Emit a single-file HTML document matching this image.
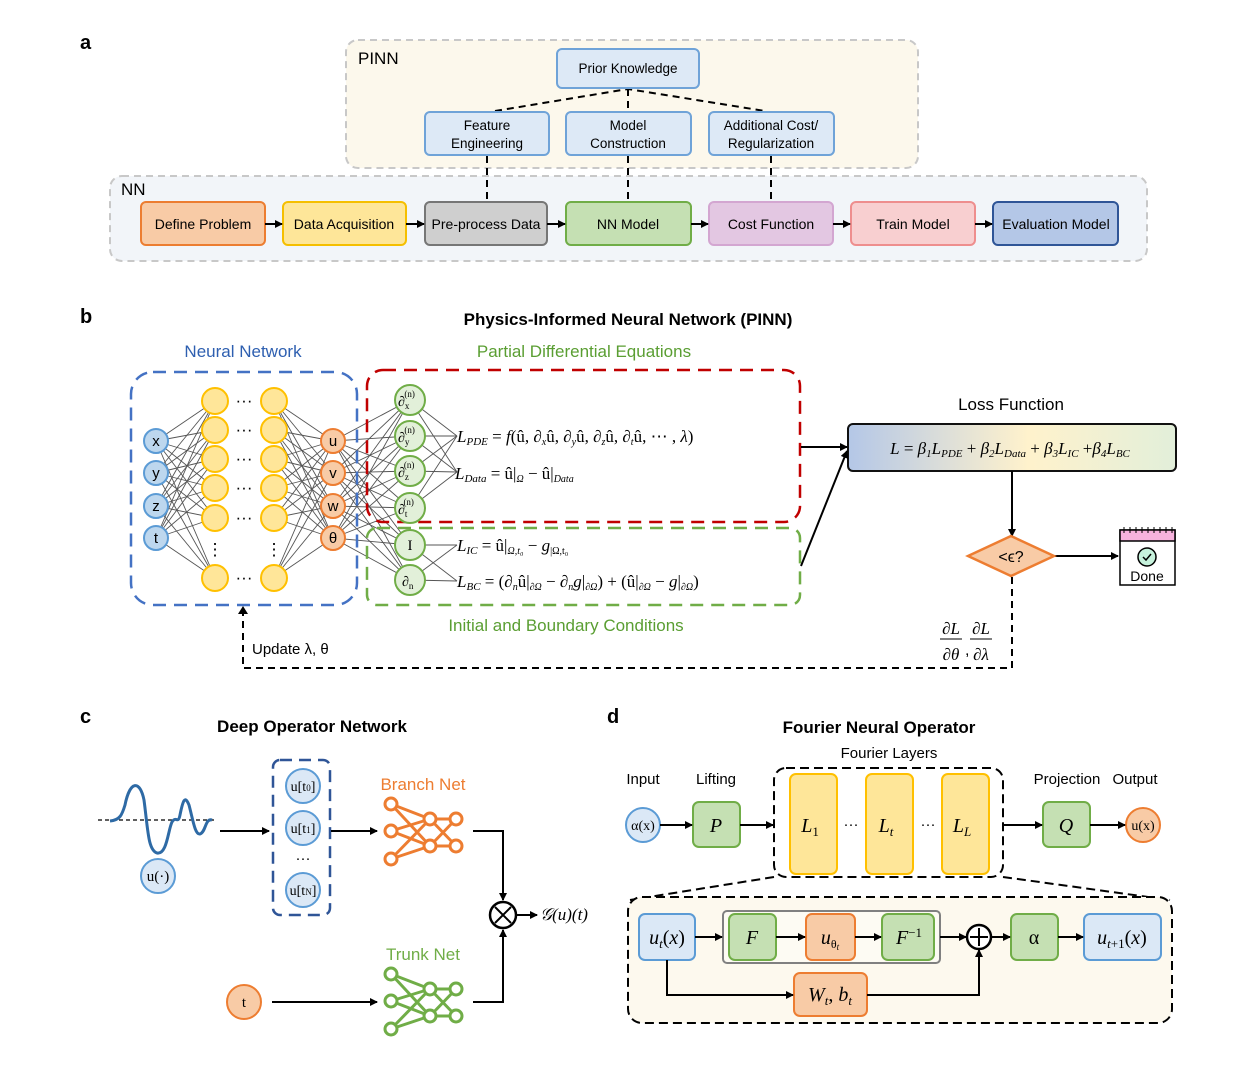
<!DOCTYPE html>
<html><head><meta charset="utf-8"><style>
html,body{margin:0;padding:0;background:#fff;}
svg{display:block;}
text{font-family:"Liberation Sans",sans-serif;}
text.m,.m text,.m tspan{font-family:"Liberation Serif",serif;font-style:italic;}
text.r,.r text,.m .r,.r tspan{font-family:"Liberation Serif",serif;font-style:normal;}
</style></head><body>
<svg id="s" width="1244" height="1072" viewBox="0 0 1244 1072" xmlns="http://www.w3.org/2000/svg">
<defs>
<marker id="ar" markerWidth="8" markerHeight="8" refX="7" refY="4" orient="auto" markerUnits="userSpaceOnUse"><path d="M0,0 L8,4 L0,8 z" fill="#000"/></marker>
<linearGradient id="lg" x1="0" x2="1" y1="0" y2="0"><stop offset="0" stop-color="#b4c7e7"/><stop offset="0.55" stop-color="#fff2cc"/><stop offset="1" stop-color="#e2efda"/></linearGradient>
</defs>
<g id="edges" stroke="#555" stroke-width="0.9" fill="none"></g>

<!-- Panel a -->
<text x="80" y="49" font-size="20" font-weight="bold">a</text>
<rect x="346" y="40" width="572" height="128" rx="12" fill="#fcf8ec" stroke="#c8c8c8" stroke-width="2" stroke-dasharray="7,5"/>
<rect x="110" y="176" width="1037" height="85" rx="12" fill="#f2f5f9" stroke="#c8c8c8" stroke-width="2" stroke-dasharray="7,5"/>
<text x="358" y="64" font-size="17">PINN</text>
<text x="121" y="195" font-size="17">NN</text>
<g stroke="#000" stroke-width="2" stroke-dasharray="7,5" fill="none">
<path d="M495,111 L628,89 L765,111"/><path d="M628,89 V112"/>
<path d="M487,156 V202"/><path d="M628,156 V202"/><path d="M771,156 V202"/>
</g>
<g stroke="#6fa3d8" stroke-width="2" fill="#dde9f6">
<rect x="557" y="49" width="142" height="39" rx="5"/>
<rect x="425" y="112" width="124" height="43" rx="5"/>
<rect x="566" y="112" width="125" height="43" rx="5"/>
<rect x="709" y="112" width="125" height="43" rx="5"/>
</g>
<g font-size="13.5" text-anchor="middle">
<text x="628" y="73">Prior Knowledge</text>
<text x="487" y="130">Feature</text><text x="487" y="148">Engineering</text>
<text x="628" y="130">Model</text><text x="628" y="148">Construction</text>
<text x="771" y="130">Additional Cost/</text><text x="771" y="148">Regularization</text>
</g>
<rect x="141" y="202" width="124" height="43" rx="5" fill="#f8cba6" stroke="#ec7d31" stroke-width="2"/>
<rect x="283" y="202" width="123" height="43" rx="5" fill="#fee699" stroke="#f5bf00" stroke-width="2"/>
<rect x="425" y="202" width="122" height="43" rx="5" fill="#cfcfcf" stroke="#767676" stroke-width="2"/>
<rect x="566" y="202" width="125" height="43" rx="5" fill="#c5e0b3" stroke="#70ad47" stroke-width="2"/>
<rect x="709" y="202" width="124" height="43" rx="5" fill="#e3c7e2" stroke="#d3a6d1" stroke-width="2"/>
<rect x="851" y="202" width="124" height="43" rx="5" fill="#f8cfd0" stroke="#ee8e8e" stroke-width="2"/>
<rect x="993" y="202" width="125" height="43" rx="5" fill="#b4c7e7" stroke="#2f5597" stroke-width="2"/>
<g font-size="14" text-anchor="middle">
<text x="203" y="229">Define Problem</text><text x="344" y="229">Data Acquisition</text><text x="486" y="229">Pre-process Data</text>
<text x="628" y="229">NN Model</text><text x="771" y="229">Cost Function</text><text x="913" y="229">Train Model</text><text x="1056" y="229">Evaluation Model</text>
</g>
<g stroke="#000" stroke-width="2" marker-end="url(#ar)">
<line x1="265" y1="224" x2="282" y2="224"/><line x1="406" y1="224" x2="424" y2="224"/><line x1="547" y1="224" x2="565" y2="224"/>
<line x1="691" y1="224" x2="708" y2="224"/><line x1="833" y1="224" x2="850" y2="224"/><line x1="975" y1="224" x2="992" y2="224"/>
</g>

<!-- Panel b -->
<text x="80" y="323" font-size="20" font-weight="bold">b</text>
<text x="628" y="325" font-size="17" font-weight="bold" text-anchor="middle">Physics-Informed Neural Network (PINN)</text>
<text x="243" y="357" font-size="17" fill="#2e5fb0" text-anchor="middle">Neural Network</text>
<text x="584" y="357" font-size="17" fill="#5a9e32" text-anchor="middle">Partial Differential Equations</text>
<text x="566" y="631" font-size="17" fill="#5a9e32" text-anchor="middle">Initial and Boundary Conditions</text>
<rect x="131" y="372" width="226" height="233" rx="22" fill="none" stroke="#4472c4" stroke-width="2.5" stroke-dasharray="13,8"/>
<rect x="367" y="370" width="433" height="152" rx="16" fill="none" stroke="#c00000" stroke-width="2.5" stroke-dasharray="13,8"/>
<rect x="367" y="528" width="433" height="77" rx="10" fill="none" stroke="#70ad47" stroke-width="2.5" stroke-dasharray="13,8"/>
<g id="nodes"></g>
<g class="r" font-size="14">
<text x="398" y="406">∂<tspan font-size="9" dy="3">x</tspan><tspan font-size="9" dx="-5" dy="-12">(n)</tspan></text>
<text x="398" y="442">∂<tspan font-size="9" dy="3">y</tspan><tspan font-size="9" dx="-5" dy="-12">(n)</tspan></text>
<text x="398" y="477">∂<tspan font-size="9" dy="3">z</tspan><tspan font-size="9" dx="-5" dy="-12">(n)</tspan></text>
<text x="398" y="514">∂<tspan font-size="9" dy="3">t</tspan><tspan font-size="9" dx="-4" dy="-12">(n)</tspan></text>
<text x="410" y="550" text-anchor="middle" font-size="15">I</text>
<text x="402" y="586">∂<tspan font-size="9" dy="3">n</tspan></text>
</g>
<g font-size="17" text-anchor="middle">
<text x="244" y="406">···</text><text x="244" y="435">···</text><text x="244" y="464">···</text><text x="244" y="493">···</text><text x="244" y="523">···</text><text x="244" y="583">···</text>
<text x="215" y="555">⋮</text><text x="274" y="555">⋮</text>
</g>
<g class="m" font-size="17">
<text x="457" y="442">L<tspan font-size="11" dy="3">PDE</tspan><tspan dy="-3" class="r"> = </tspan>f<tspan class="r">(û, </tspan>∂<tspan font-size="10" dy="3">x</tspan><tspan dy="-3" class="r">û, </tspan>∂<tspan font-size="10" dy="3">y</tspan><tspan dy="-3" class="r">û, </tspan>∂<tspan font-size="10" dy="3">z</tspan><tspan dy="-3" class="r">û, </tspan>∂<tspan font-size="10" dy="3">t</tspan><tspan dy="-3" class="r">û, ⋯ , </tspan>λ<tspan class="r">)</tspan></text>
<text x="455" y="479">L<tspan font-size="11" dy="3">Data</tspan><tspan dy="-3" class="r"> = û|</tspan><tspan font-size="10" dy="3">Ω</tspan><tspan dy="-3" class="r"> − û|</tspan><tspan font-size="10" dy="3">Data</tspan></text>
<text x="457" y="551">L<tspan font-size="11" dy="3">IC</tspan><tspan dy="-3" class="r"> = û|</tspan><tspan font-size="10" dy="3">Ω,t₀</tspan><tspan dy="-3" class="r"> − </tspan>g<tspan font-size="10" dy="3" class="r">|Ω,t₀</tspan></text>
<text x="457" y="587">L<tspan font-size="11" dy="3">BC</tspan><tspan dy="-3" class="r"> = (</tspan>∂<tspan font-size="10" dy="3">n</tspan><tspan dy="-3" class="r">û|</tspan><tspan font-size="10" dy="3">∂Ω</tspan><tspan dy="-3" class="r"> − </tspan>∂<tspan font-size="10" dy="3">n</tspan><tspan dy="-3">g</tspan><tspan class="r">|</tspan><tspan font-size="10" dy="3">∂Ω</tspan><tspan dy="-3" class="r">) + (û|</tspan><tspan font-size="10" dy="3">∂Ω</tspan><tspan dy="-3" class="r"> − </tspan>g<tspan class="r">|</tspan><tspan font-size="10" dy="3">∂Ω</tspan><tspan dy="-3" class="r">)</tspan></text>
</g>
<text x="1011" y="410" font-size="17" text-anchor="middle">Loss Function</text>
<rect x="848" y="424" width="328" height="47" rx="5" fill="url(#lg)" stroke="#111" stroke-width="2"/>
<text x="1010" y="454" font-size="17" text-anchor="middle" class="m">L<tspan class="r"> = </tspan>β<tspan font-size="11" dy="3">1</tspan><tspan dy="-3">L</tspan><tspan font-size="11" dy="3">PDE</tspan><tspan dy="-3" class="r"> + </tspan>β<tspan font-size="11" dy="3">2</tspan><tspan dy="-3">L</tspan><tspan font-size="11" dy="3">Data</tspan><tspan dy="-3" class="r"> + </tspan>β<tspan font-size="11" dy="3">3</tspan><tspan dy="-3">L</tspan><tspan font-size="11" dy="3">IC</tspan><tspan dy="-3" class="r"> +</tspan>β<tspan font-size="11" dy="3">4</tspan><tspan dy="-3">L</tspan><tspan font-size="11" dy="3">BC</tspan></text>
<g stroke="#000" stroke-width="2" fill="none" marker-end="url(#ar)">
<line x1="801" y1="447" x2="847" y2="447"/><line x1="801" y1="566" x2="847" y2="451"/>
<line x1="1012" y1="471" x2="1012" y2="536"/><line x1="1054" y1="556" x2="1118" y2="556"/>
</g>
<polygon points="968,556 1011,536 1054,556 1011,576" fill="#f8cba6" stroke="#ed7d31" stroke-width="2.5"/>
<text x="1011" y="562" font-size="16" text-anchor="middle">&lt;ϵ?</text>
<rect x="1120" y="530" width="55" height="55" fill="#fff" stroke="#000" stroke-width="1.5"/>
<rect x="1120" y="530" width="55" height="11" fill="#f7b2dd" stroke="#000" stroke-width="1.5"/>
<path d="M1124,527v6M1130,527v6M1136,527v6M1142,527v6M1148,527v6M1154,527v6M1160,527v6M1166,527v6M1172,527v6" stroke="#000" stroke-width="1"/>
<circle cx="1147" cy="557" r="9" fill="#c6f2dc" stroke="#000" stroke-width="1.5"/>
<path d="M1143,557 l3,3 l5,-6" stroke="#000" stroke-width="1.5" fill="none"/>
<text x="1147" y="581" font-size="14" text-anchor="middle">Done</text>
<path d="M1012,577 V668 H243 V612" stroke="#000" stroke-width="2" stroke-dasharray="7,5" fill="none"/>
<path d="M238,614 L243,606 L248,614 z" fill="#000"/>
<text x="252" y="654" font-size="15">Update λ, θ</text>
<g class="m" font-size="17" text-anchor="middle">
<text x="951" y="634">∂L</text><text x="951" y="660">∂θ</text><text x="981" y="634">∂L</text><text x="981" y="660">∂λ</text>
</g>
<path d="M940,639h22M970,639h22" stroke="#000" stroke-width="1"/><text x="965" y="655" font-size="16">,</text>

<!-- Panel c -->
<text x="80" y="723" font-size="20" font-weight="bold">c</text>
<text x="312" y="732" font-size="17" font-weight="bold" text-anchor="middle">Deep Operator Network</text>
<line x1="98" y1="820" x2="217" y2="820" stroke="#000" stroke-width="1.3" stroke-dasharray="4,3"/>
<path d="M110,821 C120,820 122,815 125,805 C130,780 140,780 144,800 C148,830 148,850 157,853 C167,855 168,830 172,822 C176,815 178,825 180,815 C183,800 185,795 189,805 C193,820 195,835 200,834 C206,832 205,818 212,820" stroke="#2e6aa5" stroke-width="3" fill="none"/>
<circle cx="158" cy="876" r="17" fill="#dbe8f6" stroke="#5b9bd5" stroke-width="2"/>
<text x="158" y="881" class="r" font-size="15" text-anchor="middle">u(·)</text>
<rect x="273" y="760" width="57" height="155" rx="7" fill="none" stroke="#2f5597" stroke-width="2.5" stroke-dasharray="12,7"/>
<g fill="#dbe8f6" stroke="#5b9bd5" stroke-width="2"><circle cx="303" cy="786" r="17"/><circle cx="303" cy="828" r="17"/><circle cx="303" cy="890" r="17"/></g>
<g class="r" font-size="14" text-anchor="middle"><text x="303" y="791">u[<tspan class="m">t</tspan><tspan font-size="9">0</tspan>]</text><text x="303" y="833">u[<tspan class="m">t</tspan><tspan font-size="9">1</tspan>]</text><text x="303" y="895">u[<tspan class="m">t</tspan><tspan font-size="9" class="m">N</tspan>]</text></g>
<text x="303" y="863" font-size="15" text-anchor="middle">···</text>
<text x="423" y="790" font-size="17" fill="#ed7d31" text-anchor="middle">Branch Net</text>
<text x="423" y="960" font-size="17" fill="#70ad47" text-anchor="middle">Trunk Net</text>
<g id="bn"></g>
<circle cx="244" cy="1002" r="17" fill="#f8cba6" stroke="#ed7d31" stroke-width="2"/>
<text x="244" y="1007" class="r" font-size="15" text-anchor="middle">t</text>
<g stroke="#000" stroke-width="2" fill="none">
<line x1="220" y1="831" x2="269" y2="831" marker-end="url(#ar)"/>
<line x1="331" y1="831" x2="377" y2="831" marker-end="url(#ar)"/>
<line x1="272" y1="1002" x2="377" y2="1002" marker-end="url(#ar)"/>
<path d="M473,831 H503 V900" marker-end="url(#ar)"/>
<path d="M473,1002 H503 V930" marker-end="url(#ar)"/>
<line x1="516" y1="915" x2="537" y2="915" marker-end="url(#ar)"/>
</g>
<circle cx="503" cy="915" r="13" fill="#fff" stroke="#000" stroke-width="2.5"/>
<path d="M495,907 L511,923 M511,907 L495,923" stroke="#000" stroke-width="2"/>
<text x="540" y="920" class="m" font-size="17">𝒢(u)(t)</text>

<!-- Panel d -->
<text x="607" y="723" font-size="20" font-weight="bold">d</text>
<text x="879" y="733" font-size="17" font-weight="bold" text-anchor="middle">Fourier Neural Operator</text>
<text x="889" y="758" font-size="15" text-anchor="middle">Fourier Layers</text>
<g font-size="15" text-anchor="middle"><text x="643" y="784">Input</text><text x="716" y="784">Lifting</text><text x="1067" y="784">Projection</text><text x="1135" y="784">Output</text></g>
<circle cx="643" cy="825" r="17" fill="#dbe8f6" stroke="#5b9bd5" stroke-width="2"/>
<text x="643" y="830" class="r" font-size="14" text-anchor="middle">α(x)</text>
<circle cx="1143" cy="825" r="17" fill="#f8cba6" stroke="#ed7d31" stroke-width="2"/>
<text x="1143" y="830" class="r" font-size="14" text-anchor="middle">u(x)</text>
<rect x="693" y="802" width="47" height="45" rx="6" fill="#c5e0b3" stroke="#70ad47" stroke-width="2"/>
<rect x="1043" y="802" width="47" height="45" rx="6" fill="#c5e0b3" stroke="#70ad47" stroke-width="2"/>
<text x="716" y="832" class="m" font-size="20" text-anchor="middle">P</text>
<text x="1066" y="832" class="m" font-size="20" text-anchor="middle">Q</text>
<rect x="774" y="768" width="229" height="109" rx="12" fill="none" stroke="#000" stroke-width="2" stroke-dasharray="9,5"/>
<g fill="#fee699" stroke="#ffc000" stroke-width="2"><rect x="790" y="774" width="47" height="100" rx="6"/><rect x="866" y="774" width="47" height="100" rx="6"/><rect x="942" y="774" width="47" height="100" rx="6"/></g>
<g class="m" font-size="20" text-anchor="middle"><text x="810" y="832">L<tspan font-size="13" dy="4" class="r">1</tspan></text><text x="886" y="832">L<tspan font-size="13" dy="4">t</tspan></text><text x="962" y="832">L<tspan font-size="13" dy="4">L</tspan></text></g>
<text x="851" y="829" font-size="15" text-anchor="middle">···</text><text x="928" y="829" font-size="15" text-anchor="middle">···</text>
<g stroke="#000" stroke-width="2" fill="none" marker-end="url(#ar)">
<line x1="660" y1="825" x2="692" y2="825"/><line x1="740" y1="825" x2="773" y2="825"/>
<line x1="1003" y1="825" x2="1042" y2="825"/><line x1="1090" y1="825" x2="1125" y2="825"/>
</g>
<path d="M774,877 L630,900 M1003,877 L1170,900" stroke="#000" stroke-width="2" stroke-dasharray="9,5"/>
<rect x="628" y="897" width="544" height="126" rx="14" fill="#fdf9ee" stroke="#000" stroke-width="2" stroke-dasharray="9,5"/>
<rect x="723" y="911" width="217" height="52" rx="4" fill="#fff" fill-opacity="0.3" stroke="#808080" stroke-width="2"/>
<rect x="639" y="914" width="56" height="46" rx="6" fill="#dbe8f6" stroke="#5b9bd5" stroke-width="2"/>
<rect x="1084" y="914" width="77" height="46" rx="6" fill="#dbe8f6" stroke="#5b9bd5" stroke-width="2"/>
<rect x="729" y="914" width="47" height="46" rx="6" fill="#c5e0b3" stroke="#70ad47" stroke-width="2"/>
<rect x="882" y="914" width="52" height="46" rx="6" fill="#c5e0b3" stroke="#70ad47" stroke-width="2"/>
<rect x="1011" y="914" width="47" height="46" rx="6" fill="#c5e0b3" stroke="#70ad47" stroke-width="2"/>
<rect x="806" y="914" width="49" height="46" rx="6" fill="#f8cba6" stroke="#ed7d31" stroke-width="2"/>
<rect x="794" y="973" width="73" height="43" rx="6" fill="#f8cba6" stroke="#ed7d31" stroke-width="2"/>
<g class="m" font-size="20" text-anchor="middle">
<text x="667" y="944">u<tspan font-size="13" dy="4">t</tspan><tspan dy="-4" class="r">(</tspan>x<tspan class="r">)</tspan></text>
<text x="752" y="944">F</text>
<text x="830" y="944">u<tspan font-size="12" dy="4" class="r">θ</tspan><tspan font-size="9" dy="2">t</tspan></text>
<text x="909" y="944">F<tspan font-size="13" dy="-7" class="r">−1</tspan></text>
<text x="1034" y="944" class="r">α</text>
<text x="1122" y="944">u<tspan font-size="13" dy="4">t<tspan class="r">+1</tspan></tspan><tspan dy="-4" class="r">(</tspan>x<tspan class="r">)</tspan></text>
<text x="830" y="1001">W<tspan font-size="13" dy="4">t</tspan><tspan dy="-4" class="r">, </tspan>b<tspan font-size="13" dy="4">t</tspan></text>
</g>
<g stroke="#000" stroke-width="2" fill="none" marker-end="url(#ar)">
<line x1="695" y1="937" x2="722" y2="937"/><line x1="776" y1="937" x2="805" y2="937"/><line x1="855" y1="937" x2="881" y2="937"/>
<line x1="940" y1="937" x2="966" y2="937"/><line x1="991" y1="937" x2="1010" y2="937"/><line x1="1058" y1="937" x2="1083" y2="937"/>
<path d="M667,960 V995 H793"/><path d="M867,995 H979 V950"/>
</g>
<circle cx="979" cy="937" r="12" fill="#fff" stroke="#000" stroke-width="2.5"/>
<path d="M970,937 H988 M979,928 V946" stroke="#000" stroke-width="2"/>
<script>
var NS="http://www.w3.org/2000/svg";
function el(p,t,a){var e=document.createElementNS(NS,t);for(var k in a)e.setAttribute(k,a[k]);p.appendChild(e);return e;}
var E=document.getElementById("edges"),N=document.getElementById("nodes");
var inp=[441,473,506,538],hid=[401,430,459,488,518,578],out=[441,473,506,538],pde=[400,436,471,508,545,580];
function conn(x1,a,x2,b){a.forEach(function(y1){b.forEach(function(y2){el(E,"line",{x1:x1,y1:y1,x2:x2,y2:y2});});});}
conn(156,inp,215,hid);conn(274,hid,333,out);conn(333,out,410,pde);
[400,436,471,508].forEach(function(y){[436,472].forEach(function(y2){el(E,"line",{x1:410,y1:y,x2:457,y2:y2});});});
[545,580].forEach(function(y){[545,581].forEach(function(y2){el(E,"line",{x1:410,y1:y,x2:457,y2:y2});});});
function circ(x,y,r,f,s,t){el(N,"circle",{cx:x,cy:y,r:r,fill:f,stroke:s,"stroke-width":2});if(t){var tx=el(N,"text",{x:x,y:y+5,"text-anchor":"middle","font-size":15});tx.textContent=t;}}
["x","y","z","t"].forEach(function(t,i){circ(156,inp[i],12,"#bdd7ee","#5b9bd5",t);});
hid.forEach(function(y){circ(215,y,13,"#ffe699","#ffc000");circ(274,y,13,"#ffe699","#ffc000");});
["u","v","w","θ"].forEach(function(t,i){circ(333,out[i],12,"#f8cba6","#ed7d31",t);});
pde.forEach(function(y){circ(410,y,15,"#e2f0d9","#70ad47");});
var B=document.getElementById("bn");
function net(oy,c){var L=[[391,oy],[391,oy+27],[391,oy+55]],M=[[430,oy+15],[430,oy+42]],R=[[456,oy+15],[456,oy+42]];
L.forEach(function(a){M.forEach(function(b){el(B,"line",{x1:a[0],y1:a[1],x2:b[0],y2:b[1],stroke:c,"stroke-width":3});});});
M.forEach(function(a){R.forEach(function(b){el(B,"line",{x1:a[0],y1:a[1],x2:b[0],y2:b[1],stroke:c,"stroke-width":3});});});
L.concat(M,R).forEach(function(p){el(B,"circle",{cx:p[0],cy:p[1],r:6,fill:"#fff",stroke:c,"stroke-width":3});});}
net(804,"#ed7d31");net(974,"#70ad47");
</script>
</svg>
</body></html>
